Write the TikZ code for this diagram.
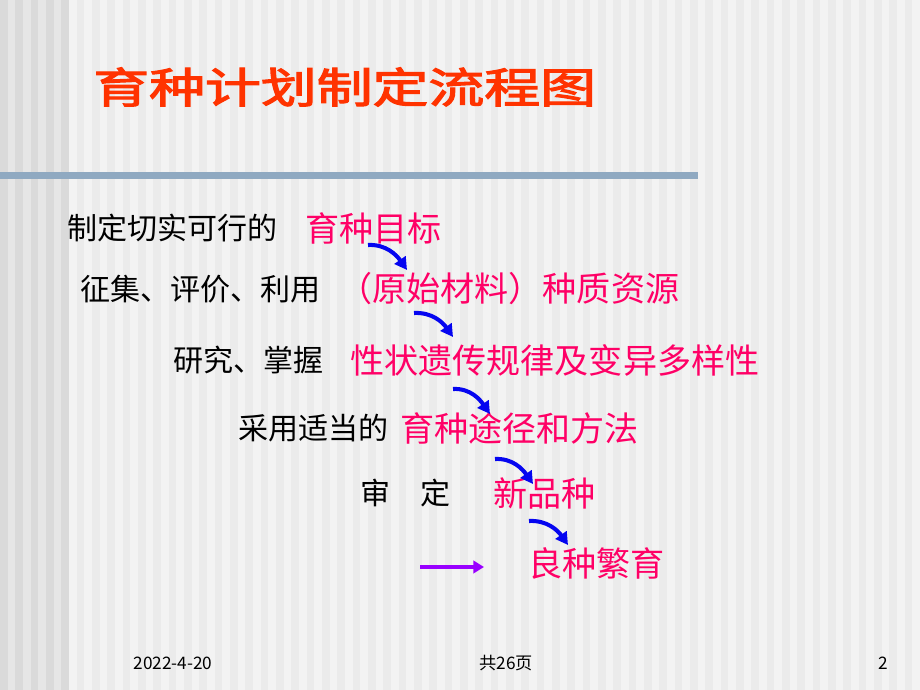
\documentclass[tikz,border=0pt]{standalone}
\usepackage{fontspec}
\usetikzlibrary{arrows.meta}
\newfontfamily\cjk{Noto Sans CJK SC}
\newfontfamily\cjkheavy[FakeBold=2.5]{Noto Sans CJK SC}
\definecolor{titlered}{HTML}{FF3300}
\definecolor{itempink}{HTML}{FF0066}
\definecolor{flowblue}{HTML}{0505F0}
\definecolor{nextpurple}{HTML}{9900FF}
\definecolor{rulegray}{HTML}{8FA9C1}
\definecolor{bgdark}{HTML}{E6E6E6}
\definecolor{bgdarkstripe}{HTML}{DADADA}
\definecolor{bglight}{HTML}{F3F3F3}
\definecolor{bglightstripe}{HTML}{EBEBEB}

\begin{document}
\begin{tikzpicture}[x=0.02cm,y=0.02cm,
	lead/.style={anchor=west,inner sep=0pt,font=\cjk\fontsize{17.1pt}{17.1pt}\selectfont},
	item/.style={anchor=west,inner sep=0pt,text=itempink,font=\cjk\fontsize{19.4pt}{19.4pt}\selectfont},
	foot/.style={inner sep=0pt,font=\cjk\fontsize{9.8pt}{9.8pt}\selectfont},
	flow/.style={-{Triangle[length=7pt,width=7.5pt]},line width=2.3pt,draw=flowblue}]
	\useasboundingbox (0,0) rectangle (920,690);
	\fill[bglight] (0,0) rectangle (920,690);
	\fill[bgdark] (0,0) rectangle (69,690);
	\foreach \i in {0,...,59} {
		\pgfmathsetmacro{\xa}{\i*15.333}
		\ifnum\i<5
			\fill[bgdarkstripe] (\xa,0) rectangle ++(7.667,690);
		\else
			\fill[bglightstripe] (\xa,0) rectangle ++(7.667,690);
		\fi
	}

	\node[anchor=west,inner sep=0pt,text=titlered,font=\cjkheavy\fontsize{23.9pt}{23.9pt}\selectfont] (title) at (93,603) {\scalebox{1.33}[1]{育种计划制定流程图}};
	\fill[rulegray] (0,510.5) rectangle (698,517.5);

	\node[lead] (l1) at (67,462) {制定切实可行的};
	\node[item] (goal) at (305,462) {育种目标};
	\node[lead] (l2) at (80,401) {征集、评价、利用};
	\node[item] (germ) at (338,401) {（原始材料）种质资源};
	\node[lead] (l3) at (173,330) {研究、掌握};
	\node[item] (trait) at (350,330) {性状遗传规律及变异多样性};
	\node[lead] (l4) at (238,262) {采用适当的};
	\node[item] (method) at (400,262) {育种途径和方法};
	\node[lead] (l5) at (360,197) {审　定};
	\node[item] (variety) at (493,197) {新品种};
	\node[item] (seed) at (528,127) {良种繁育};

	\coordinate (a1) at (368,445);
	\coordinate (b1) at (407,420);
	\coordinate (a2) at (414,377);
	\coordinate (b2) at (453,353);
	\coordinate (a3) at (453,301);
	\coordinate (b3) at (490,276);
	\coordinate (a4) at (495,231);
	\coordinate (b4) at (533,206);
	\coordinate (a5) at (529,169);
	\coordinate (b5) at (568,145);
	\coordinate (p1) at (420,123);
	\coordinate (p2) at (484,123);

	\draw[flow] (a1) to[out=3,in=125] (b1);
	\draw[flow] (a2) to[out=3,in=125] (b2);
	\draw[flow] (a3) to[out=3,in=125] (b3);
	\draw[flow] (a4) to[out=3,in=125] (b4);
	\draw[flow] (a5) to[out=3,in=125] (b5);
	\draw[-{Triangle[length=6pt,width=7pt]},line width=2.3pt,draw=nextpurple] (p1) -- (p2);

	\node[foot] (date) at (173,27) {2022-4-20};
	\node[foot] (total) at (506,27) {共26页};
	\node[foot] (page) at (883,27) {2};
\end{tikzpicture}
\end{document}
